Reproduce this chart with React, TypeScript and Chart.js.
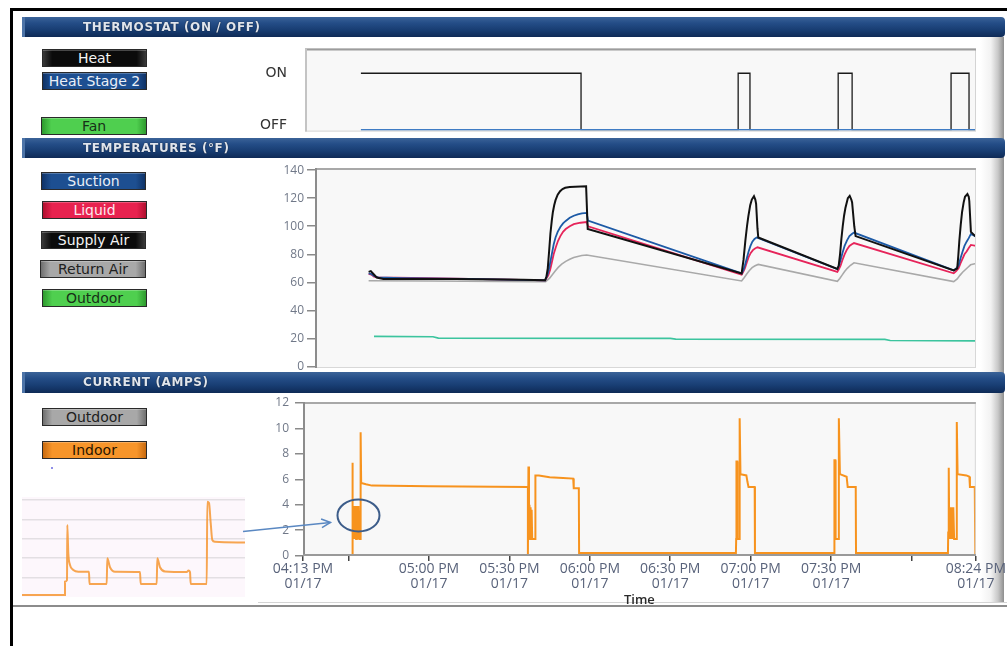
import React, { useEffect, useRef } from 'react';
import { Chart, registerables } from 'chart.js';

Chart.register(...registerables);
Chart.defaults.font.family = '"Open Sans", "DejaVu Sans", sans-serif';

// ---------------- DATA ----------------
// time values are minutes after 04:00 PM (01/17)
const timeTickValues = [13, 30, 60, 90, 120, 150, 180, 210, 240, 264];
const timeTickLabels = ['04:13 PM', '', '05:00 PM', '05:30 PM', '06:00 PM', '06:30 PM', '07:00 PM', '07:30 PM', '', '08:24 PM'];
const dateLabel = '01/17';

// Thermostat (1 = ON, 0 = OFF)
const thermoTickValues = [0.08, 1];
const thermoTickLabels = ['OFF', 'ON'];
const heatTimes = [34.6, 116.7, 116.7, 175.3, 175.3, 179.7, 179.7, 212.6, 212.6, 217.8, 217.8, 254.7, 254.7, 261.4, 261.4, 264];
const heatStates = [1, 1, 0, 0, 1, 1, 0, 0, 1, 1, 0, 0, 1, 1, 0, 0];
const stage2Times = [34.6, 264];
const stage2States = [0, 0];

// Temperatures (°F)
const tempTicks = [0, 20, 40, 60, 80, 100, 120, 140];
const supplyTimes = [
  37.5, 38.3, 39.3, 40.5, 43, 70, 95,
  103.3, 103.8, 104.3, 104.8, 105.3, 105.8, 106.2, 106.7, 107.2, 108, 108.9, 109.8, 110.8, 112.5, 114.5, 118.6, 119.2,
  176.6, 177.3, 178.0, 178.6, 179.1, 179.8, 180.4, 181.2, 181.7, 182.0, 182.5, 182.8,
  212.3, 212.8, 213.3, 213.8, 214.3, 214.8, 215.3, 216.2, 216.9, 217.5, 217.8, 218.6, 219.1,
  255.7, 257.0, 257.4, 257.8, 258.3, 258.8, 259.4, 259.9, 260.8, 261.3, 261.5, 262.1, 264,
];
const supplyValues = [
  67.5, 68, 66, 63.5, 62.5, 62.5, 61.8,
  61.5, 64, 70, 82, 95, 104, 110, 115, 118.6, 122.5, 125, 126.5, 127.4, 128, 128.2, 128.5, 98,
  66.4, 76, 90, 100, 107, 115, 119, 121.4, 119, 116, 98.6, 92,
  69.5, 72, 80, 91, 100, 107.5, 113, 120, 121.6, 119, 117, 100, 93,
  68.5, 70, 79, 90, 101, 110, 117, 121, 123, 121, 118, 96, 92.5,
];
const suctionTimes = [
  37.5, 38.5, 39.5, 41, 50, 75,
  103.3, 104.3, 104.8, 105.3, 105.8, 106.5, 107.2, 108, 109, 110, 111, 112.5, 114, 115.5, 117, 118.8, 119.3,
  176.6, 177.2, 177.8, 178.5, 179.2, 179.9, 180.6, 181.4, 182.2,
  212.3, 212.9, 213.5, 214.2, 215, 215.9, 216.8, 217.7, 218.5,
  255.7, 256.6, 257.5, 258.2, 259, 259.7, 260.5, 261.3, 262.1, 264,
];
const suctionValues = [
  66.5, 66, 64.5, 63.5, 63, 62.5,
  61.5, 66, 70, 75, 80, 87, 92, 96, 99.5, 102, 103.8, 106, 107.5, 108.5, 109.2, 109.5, 104,
  66.4, 68.5, 72, 77, 82, 86, 89, 91, 92,
  69.5, 72, 76, 81, 86, 90, 93, 94.5, 95.5,
  68.5, 70, 72, 77, 82, 86, 89, 91.5, 94.5, 92.5,
];
const liquidTimes = [
  37.5, 38.5, 39.5, 41, 60, 90,
  103.3, 104.5, 105.2, 105.8, 106.5, 107.3, 108.1, 109, 110, 111, 112.5, 114, 116.5, 118.8, 119.3,
  176.6, 177.2, 177.8, 178.5, 179.2, 180, 180.8, 181.6, 182.5,
  212.3, 212.9, 213.5, 214.2, 215, 215.9, 216.8, 217.7, 218.5,
  255.7, 256.6, 257.5, 258.2, 259, 259.7, 260.5, 261.3, 262.1, 264,
];
const liquidValues = [
  66, 65.5, 64, 63.5, 63, 62,
  61.5, 65, 69, 74, 80, 85, 89.5, 93, 96, 98, 100, 101.5, 102.5, 103, 100,
  65.5, 67.5, 70, 74, 78, 81, 83, 84.2, 85,
  67.5, 69.5, 72, 76, 80, 83.5, 86, 87.2, 88,
  66.5, 68, 70, 73.5, 77, 80, 82, 84.5, 86.7, 86,
];
const returnTimes = [
  37.5, 60, 100,
  103.5, 105, 106, 107, 108.2, 109.5, 111, 112.5, 114, 115.5, 117, 118.8,
  176.6, 177.6, 178.5, 179.5, 180.5, 181.6, 182.8,
  212.3, 213.2, 214, 215, 216, 217.2, 218.5,
  255.7, 257, 258, 259, 260, 261, 262, 264,
];
const returnValues = [
  61.2, 61, 60.5,
  60.5, 63, 65.5, 68, 70.7, 73, 75, 76.5, 77.7, 78.5, 79.1, 79.5,
  61, 63.5, 66, 68.5, 70.5, 71.8, 72.8,
  60.8, 62.8, 65, 67.7, 70, 72.2, 74,
  60.6, 62.5, 65, 67.2, 69, 70.8, 72.5, 73.5,
];
const outdoorTimes = [39.5, 61.5, 63.5, 150, 152, 230, 232, 264];
const outdoorValues = [21.5, 21.3, 20.3, 20.1, 19.6, 19.4, 18.6, 18.3];

// Current (amps)
const currentTicks = [0, 2, 4, 6, 8, 10, 12];
const indoorTimes = [
  31.3, 31.3, 31.6, 31.6, 31.9, 32.2, 32.5, 32.8, 33.1, 33.4, 33.7, 34.0, 34.3, 34.4, 34.6, 34.7, 36.5, 38.7, 60, 96.9,
  96.9, 97.1, 97.3, 97.5, 97.7, 97.9, 98.1, 98.3, 98.5, 99.7, 99.7, 101, 105, 110, 113.8, 114, 115.9, 116,
  174.5, 174.6, 174.7, 175.0, 175.1, 175.8, 175.9, 176.2, 178.4, 178.8, 179.2, 181.5, 181.6,
  211.1, 211.2, 211.3, 211.6, 211.7, 212.8, 212.9, 213.3, 215.8, 216.2, 219.2, 219.3,
  253.6, 253.7, 253.9, 254.1, 254.4, 254.7, 255.0, 255.3, 255.6, 255.9, 256.8, 256.9, 257.2, 260.5, 261.6, 261.8, 263.6, 263.8,
];
const indoorAmps = [
  0, 7.3, 7.3, 1.3, 3.9, 1.3, 3.9, 1.3, 3.9, 1.3, 3.9, 1.3, 1.3, 9.7, 9.7, 5.7, 5.6, 5.5, 5.45, 5.4,
  0, 7.0, 1.3, 4.0, 1.3, 3.8, 1.3, 3.6, 1.3, 1.3, 6.3, 6.3, 6.15, 6.1, 6.05, 5.3, 5.3, 0.2,
  0.2, 1.3, 7.4, 7.4, 1.3, 1.3, 10.8, 6.4, 6.3, 5.8, 5.4, 5.4, 0.2,
  0.2, 1.3, 7.5, 7.5, 1.3, 1.3, 10.8, 6.4, 6.2, 5.4, 5.4, 0.2,
  0.2, 1.8, 6.9, 1.3, 3.8, 1.3, 3.8, 1.3, 3.8, 1.3, 1.3, 10.5, 6.4, 6.3, 6.2, 5.4, 5.4, 0.1,
];
const noteTime = 33.7;
const noteAmps = 3.15;

// Inset (zoomed current trace)
const insetGrid = [1, 2, 3, 4, 5];
const insetX = [0, 43, 43, 45, 45.3, 46.3, 48, 51.3, 56.3, 67, 67.5, 84.7, 85.3, 88, 93, 118, 118.7, 134.7, 135.3, 138, 143, 164.7, 166.5, 168, 168.7, 184.7, 185.3, 187, 188.7, 190.3, 193, 223];
const insetY = [0.08, 0.08, 0.77, 0.85, 3.71, 2.24, 1.64, 1.38, 1.29, 1.29, 0.65, 0.65, 1.98, 1.52, 1.29, 1.27, 0.65, 0.65, 1.98, 1.52, 1.3, 1.27, 1.35, 1.27, 0.65, 0.65, 4.91, 4.85, 3.81, 2.93, 2.84, 2.8];

const pts = (xs: number[], ys: number[]) => xs.map((x, i) => ({ x, y: ys[i] }));

// ---------------- PLUGINS ----------------
const plotFrame = {
  id: 'plotFrame',
  beforeDraw(chart: any, _a: any, o: any) {
    const { ctx, chartArea: a } = chart;
    if (!a) return;
    ctx.save();
    ctx.fillStyle = o.fill || '#f8f8f8';
    ctx.fillRect(a.left, a.top, a.right - a.left, a.bottom - a.top);
    ctx.restore();
  },
  afterDatasetsDraw(chart: any, _a: any, o: any) {
    const { ctx, chartArea: a } = chart;
    if (!a || o.noBorder) return;
    ctx.save();
    ctx.lineWidth = 1;
    ctx.strokeStyle = o.side || '#d0d0d0';
    ctx.strokeRect(a.left + 0.5, a.top + 0.5, a.right - a.left - 1, a.bottom - a.top - 1);
    const line = (x1: number, y1: number, x2: number, y2: number, c: string, w: number) => {
      ctx.strokeStyle = c; ctx.lineWidth = w;
      ctx.beginPath(); ctx.moveTo(x1, y1); ctx.lineTo(x2, y2); ctx.stroke();
    };
    if (o.top) line(a.left, a.top + 1, a.right, a.top + 1, o.top, 2);
    if (o.left) line(a.left + 1, a.top, a.left + 1, a.bottom, o.left, 2);
    if (o.bottom) line(a.left, a.bottom - 1, a.right, a.bottom - 1, o.bottom, 2);
    ctx.restore();
  },
};

const circleNote = {
  id: 'circleNote',
  afterDraw(chart: any) {
    const { ctx, scales } = chart;
    const cx = scales.x.getPixelForValue(noteTime);
    const cy = scales.y.getPixelForValue(noteAmps);
    ctx.save();
    ctx.strokeStyle = '#3d5d8a';
    ctx.lineWidth = 2;
    ctx.beginPath();
    ctx.ellipse(cx, cy, 21, 16, 0, 0, Math.PI * 2);
    ctx.stroke();
    const tx = cx - 21 - 7, ty = cy + 7;
    const sx = 3, sy = ty + 9;
    ctx.strokeStyle = '#5a88c2';
    ctx.lineWidth = 1.5;
    ctx.beginPath(); ctx.moveTo(sx, sy); ctx.lineTo(tx, ty); ctx.stroke();
    const ang = Math.atan2(ty - sy, tx - sx);
    ctx.beginPath();
    ctx.moveTo(tx - 10 * Math.cos(ang - 0.45), ty - 10 * Math.sin(ang - 0.45));
    ctx.lineTo(tx, ty);
    ctx.lineTo(tx - 10 * Math.cos(ang + 0.45), ty - 10 * Math.sin(ang + 0.45));
    ctx.stroke();
    ctx.restore();
  },
};

const noPoints = { pointRadius: 0, pointHoverRadius: 0, tension: 0 };
const baseOpts = {
  responsive: false,
  animation: false as const,
  devicePixelRatio: 1,
  events: [] as any[],
};

// ---------------- CHART CONFIGS ----------------
const thermoConfig = () => ({
  type: 'line',
  data: {
    datasets: [
      { data: pts(stage2Times, stage2States), borderColor: '#3f7cc4', borderWidth: 1.5, ...noPoints },
      { data: pts(heatTimes, heatStates), borderColor: '#1a1a1a', borderWidth: 1.3, ...noPoints },
    ],
  },
  options: {
    ...baseOpts,
    layout: { padding: { top: 17, bottom: 16, right: 31, left: 0 } },
    plugins: { legend: { display: false }, tooltip: { enabled: false }, plotFrame: { top: '#9c9c9c', left: '#c4c4c4', side: '#d4d4d4' } },
    scales: {
      x: { type: 'linear', min: 13.75, max: 264, display: false },
      y: {
        type: 'linear', min: -0.034, max: 1.44,
        afterFit: (s: any) => { s.width = 65; },
        afterBuildTicks: (s: any) => { s.ticks = thermoTickValues.map((v) => ({ value: v })); },
        ticks: {
          callback: (v: any) => thermoTickLabels[thermoTickValues.indexOf(v)] ?? '',
          font: { size: 14, family: '"DejaVu Sans", sans-serif' }, color: '#333333', padding: 10,
        },
        grid: { display: false },
        border: { display: false },
      },
    },
  },
  plugins: [plotFrame],
});

const tempConfig = () => ({
  type: 'line',
  data: {
    datasets: [
      { data: pts(supplyTimes, supplyValues), borderColor: '#111111', borderWidth: 2, ...noPoints },
      { data: pts(suctionTimes, suctionValues), borderColor: '#1d5aa6', borderWidth: 1.8, ...noPoints },
      { data: pts(liquidTimes, liquidValues), borderColor: '#e6245a', borderWidth: 1.8, ...noPoints },
      { data: pts(returnTimes, returnValues), borderColor: '#a9a9a9', borderWidth: 1.6, ...noPoints },
      { data: pts(outdoorTimes, outdoorValues), borderColor: '#3cc49e', borderWidth: 1.6, ...noPoints },
    ],
  },
  options: {
    ...baseOpts,
    layout: { padding: { top: 18, bottom: 17, right: 31, left: 0 } },
    plugins: { legend: { display: false }, tooltip: { enabled: false }, plotFrame: { top: '#a8a8a8', left: '#8c8c8c', side: '#d8d8d8' } },
    scales: {
      x: { type: 'linear', min: 17.5, max: 264, display: false },
      y: {
        type: 'linear', min: -1, max: 141.5,
        afterFit: (s: any) => { s.width = 75; },
        afterBuildTicks: (s: any) => { s.ticks = tempTicks.map((v) => ({ value: v })); },
        ticks: { font: { size: 12 }, color: '#707888', padding: 3 },
        grid: { drawOnChartArea: false, tickLength: 8, color: '#8a8a8a', lineWidth: 1.5 },
        border: { display: false },
      },
    },
  },
  plugins: [plotFrame],
});

const currentConfig = () => ({
  type: 'line',
  data: {
    datasets: [
      { data: pts(indoorTimes, indoorAmps), borderColor: '#f7931e', borderWidth: 2, ...noPoints },
    ],
  },
  options: {
    ...baseOpts,
    layout: { padding: { top: 17, bottom: 0, right: 31, left: 0 } },
    plugins: { legend: { display: false }, tooltip: { enabled: false }, plotFrame: { top: '#a8a8a8', left: '#8c8c8c', bottom: '#9a9a9a', side: '#d8d8d8' } },
    scales: {
      x: {
        type: 'linear', min: 13, max: 264,
        afterFit: (s: any) => { s.height = 52; },
        afterBuildTicks: (s: any) => { s.ticks = timeTickValues.map((v) => ({ value: v })); },
        ticks: {
          autoSkip: false, maxRotation: 0, minRotation: 0, padding: 1,
          font: { size: 14, lineHeight: 1.05 }, color: '#58627a',
          callback: (v: any) => {
            const l = timeTickLabels[timeTickValues.indexOf(v)];
            return l ? [l, dateLabel] : '';
          },
        },
        grid: { drawOnChartArea: false, tickLength: 5, color: '#444444', lineWidth: 1.5 },
        border: { display: false },
        title: { display: true, text: 'Time', font: { size: 13, weight: '600' }, color: '#2b2b2b', padding: { top: 0, bottom: 0 } },
      },
      y: {
        type: 'linear', min: -0.04, max: 12.08,
        afterFit: (s: any) => { s.width = 63; },
        afterBuildTicks: (s: any) => { s.ticks = currentTicks.map((v) => ({ value: v })); },
        ticks: { font: { size: 12 }, color: '#707888', padding: 6 },
        grid: { drawOnChartArea: false, tickLength: 8, color: '#8a8a8a', lineWidth: 1.5 },
        border: { display: false },
      },
    },
  },
  plugins: [plotFrame, circleNote],
});

const insetConfig = () => ({
  type: 'line',
  data: {
    datasets: [
      { data: pts(insetX, insetY), borderColor: 'rgba(246,150,50,0.85)', borderWidth: 2, pointRadius: 0, cubicInterpolationMode: 'monotone' },
    ],
  },
  options: {
    ...baseOpts,
    layout: { padding: 0 },
    plugins: { legend: { display: false }, tooltip: { enabled: false }, plotFrame: { fill: '#fdf7fc', noBorder: true } },
    scales: {
      x: { type: 'linear', min: 0, max: 223, display: false },
      y: {
        type: 'linear', min: -0.02, max: 5.155,
        afterFit: (s: any) => { s.width = 0; },
        afterBuildTicks: (s: any) => { s.ticks = insetGrid.map((v) => ({ value: v })); },
        ticks: { display: false },
        grid: { drawTicks: false, color: '#e3dfe3', lineWidth: 1.5 },
        border: { display: false },
      },
    },
  },
  plugins: [plotFrame],
});

// ---------------- COMPONENTS ----------------
function ChartBox({ left, top, width, height, make }: { left: number; top: number; width: number; height: number; make: () => any }) {
  const ref = useRef<HTMLCanvasElement>(null);
  useEffect(() => {
    const c = new Chart(ref.current as HTMLCanvasElement, make());
    return () => c.destroy();
  }, []);
  return (
    <canvas ref={ref} width={width} height={height}
      style={{ position: 'absolute', left, top, width, height, zIndex: 1 }} />
  );
}

function Header({ top, height, text }: { top: number; height: number; text: string }) {
  return (
    <div style={{
      position: 'absolute', left: 22, top, width: 983, height, zIndex: 3, boxSizing: 'border-box',
      background: 'linear-gradient(#3b6398 0%, #244d87 30%, #183d72 65%, #0e2a56 100%)',
      borderLeft: '3px solid #4d74a8', borderRadius: '0 4px 4px 0',
      color: '#dfe5ee', font: 'bold 12px "DejaVu Sans", sans-serif', letterSpacing: '0.6px', lineHeight: `${height}px`,
      paddingLeft: 58, textShadow: '0 0 1px #000', whiteSpace: 'nowrap',
    }}>{text}</div>
  );
}

function Btn({ left, top, width = 105, height = 18, label, c1, c2, color }:
  { left: number; top: number; width?: number; height?: number; label: string; c1: string; c2: string; color: string }) {
  return (
    <div style={{
      position: 'absolute', left, top, width, height, boxSizing: 'border-box', zIndex: 3,
      border: '1px solid #2a2a2a',
      background: `linear-gradient(to right, ${c2} 0%, ${c1} 9%, ${c1} 91%, ${c2} 100%)`,
      color, font: '14px "DejaVu Sans", sans-serif', lineHeight: `${height - 2}px`, textAlign: 'center',
      boxShadow: 'inset 0 1px 0 rgba(255,255,255,0.25)', whiteSpace: 'nowrap', overflow: 'hidden',
    }}>{label}</div>
  );
}

const BLUE = ['#1d4f91', '#0f3266', '#eaf0f8'];
const BLACK = ['#0b0b0b', '#3a3a3a', '#f4f4f4'];
const GREEN = ['#4fcf4f', '#2e9a2e', '#183018'];
const GREY = ['#a8a8a8', '#6f6f6f', '#202020'];
const RED = ['#e8224f', '#b0102f', '#fbe9ee'];
const ORANGE = ['#f7952a', '#c86a10', '#2a1500'];

export default function App() {
  return (
    <div style={{ position: 'absolute', left: 0, top: 0, width: 1007, height: 646, overflow: 'hidden', background: '#ffffff' }}>
      {/* outer frame */}
      <div style={{ position: 'absolute', left: 10, top: 8, width: 997, height: 3, background: '#000' }} />
      <div style={{ position: 'absolute', left: 10, top: 8, width: 3, height: 638, background: '#000' }} />
      {/* right strip (behind the charts) */}
      <div style={{ position: 'absolute', left: 980, top: 37, width: 24, height: 566, zIndex: 0, background: 'linear-gradient(to right, #ffffff 0%, #f2f2f2 45%, #c8c8c8 75%, #8e8e8e 100%)' }} />
      {/* bottom lines */}
      <div style={{ position: 'absolute', left: 258, top: 602, width: 749, height: 1, background: '#d4d4d4' }} />
      <div style={{ position: 'absolute', left: 13, top: 605, width: 994, height: 2, background: '#8c8c8c' }} />

      <ChartBox left={240} top={30} width={767} height={120} make={thermoConfig} />
      <ChartBox left={240} top={150} width={767} height={235} make={tempConfig} />
      <ChartBox left={22} top={497} width={223} height={100} make={insetConfig} />
      <ChartBox left={240} top={385} width={767} height={223} make={currentConfig} />

      <Header top={17} height={20} text="THERMOSTAT (ON / OFF)" />
      <Header top={138} height={20} text="TEMPERATURES (°F)" />
      <Header top={372} height={21} text="CURRENT (AMPS)" />

      <Btn left={42} top={49} label="Heat" c1={BLACK[0]} c2={BLACK[1]} color={BLACK[2]} />
      <Btn left={42} top={72} label="Heat Stage 2" c1={BLUE[0]} c2={BLUE[1]} color={BLUE[2]} />
      <Btn left={41} top={117} width={106} label="Fan" c1={GREEN[0]} c2={GREEN[1]} color={GREEN[2]} />

      <Btn left={41} top={172} label="Suction" c1={BLUE[0]} c2={BLUE[1]} color={BLUE[2]} />
      <Btn left={42} top={201} label="Liquid" c1={RED[0]} c2={RED[1]} color={RED[2]} />
      <Btn left={41} top={231} label="Supply Air" c1={BLACK[0]} c2={BLACK[1]} color={BLACK[2]} />
      <Btn left={40} top={260} width={106} label="Return Air" c1={GREY[0]} c2={GREY[1]} color={GREY[2]} />
      <Btn left={42} top={289} label="Outdoor" c1={GREEN[0]} c2={GREEN[1]} color={GREEN[2]} />

      <Btn left={42} top={408} label="Outdoor" c1={GREY[0]} c2={GREY[1]} color={GREY[2]} />
      <Btn left={42} top={441} label="Indoor" c1={ORANGE[0]} c2={ORANGE[1]} color={ORANGE[2]} />
      <div style={{ position: 'absolute', left: 51, top: 467, width: 2, height: 2, background: '#8f8fe8' }} />
    </div>
  );
}
